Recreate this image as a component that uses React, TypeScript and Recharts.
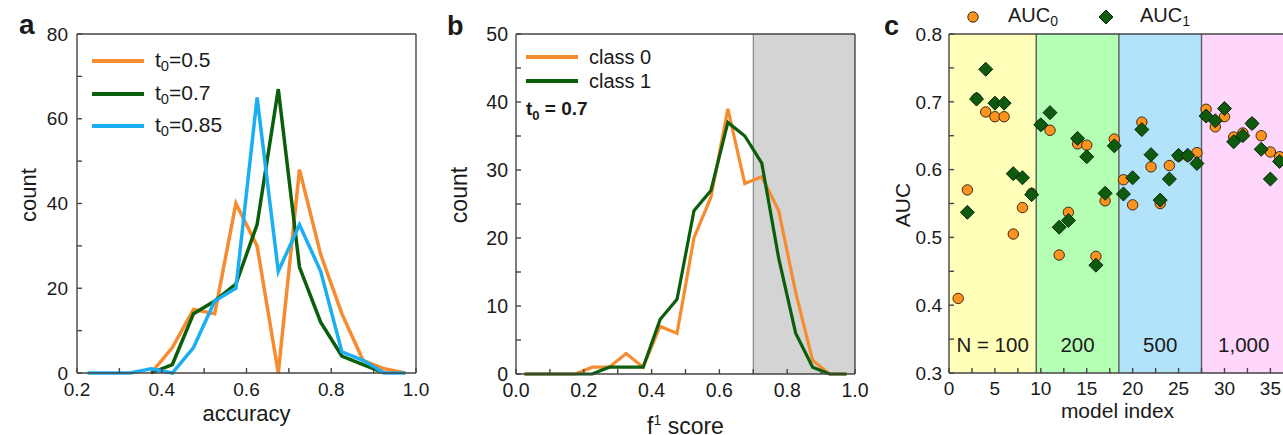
import React from "react";
import {
  LineChart,
  Line,
  ScatterChart,
  Scatter,
  XAxis,
  YAxis,
  Legend,
  ReferenceArea,
  ReferenceLine,
} from "recharts";

const FONT = '"Liberation Sans", Arial, Helvetica, sans-serif';
const ORANGE = "#F68B2F";
const GREEN = "#0B5E0B";
const BLUE = "#1CAEF2";
const FRAME = "#454545";
const TEXT = "#1a1a1a";

// ---- panel a : accuracy histogram ----
const accuracyBins = [
  0.225, 0.275, 0.325, 0.375, 0.425, 0.475, 0.525, 0.575, 0.625, 0.675, 0.725,
  0.775, 0.825, 0.875, 0.925, 0.975,
];
const countT05 = [null, null, null, 0, 6, 15, 14, 40, 30, 0, 48, 28, 14, 3, 1, 0];
const countT07 = [null, null, null, 0, 2, 14, 17, 21, 35, 67, 25, 12, 4, 2, 0, null];
const countT085 = [0, 0, 0, 1, 0, 6, 17, 20, 65, 24, 35, 24, 5, 3, 0, 0];
const accuracyTicks = [0.2, 0.4, 0.6, 0.8, 1.0];
const accuracyMinorTicks = [0.3, 0.5, 0.7, 0.9];
const countTicks = [0, 20, 40, 60, 80];
const countMinorTicks = [10, 30, 50, 70];

// ---- panel b : f1 score histogram ----
const f1Bins = [
  0.025, 0.075, 0.125, 0.175, 0.225, 0.275, 0.325, 0.375, 0.425, 0.475, 0.525,
  0.575, 0.625, 0.675, 0.725, 0.775, 0.825, 0.875, 0.925, 0.975,
];
const f1Class0 = [0, 0, 0, 0, 1, 1, 3, 1, 7, 6, 20, 26, 39, 28, 29, 24, 12, 2, 0, 0];
const f1Class1 = [0, 0, 0, 0, 0, 1, 1, 1, 8, 11, 24, 27, 37, 35, 31, 17, 6, 1, 0, 0];
const f1Ticks = [0, 0.2, 0.4, 0.6, 0.8, 1.0];
const f1MinorTicks = [0.1, 0.3, 0.5, 0.7, 0.9];
const f1CountTicks = [0, 10, 20, 30, 40, 50];
const f1CountMinorTicks = [5, 15, 25, 35, 45];
const f1Threshold = 0.7;

// ---- panel c : AUC per model ----
const modelIndex = [
  1, 2, 3, 4, 5, 6, 7, 8, 9, 10, 11, 12, 13, 14, 15, 16, 17, 18, 19, 20, 21, 22,
  23, 24, 25, 26, 27, 28, 29, 30, 31, 32, 33, 34, 35, 36,
];
const auc0 = [
  0.41, 0.57, 0.705, 0.685, 0.678, 0.678, 0.505, 0.544, 0.565, 0.666, 0.658,
  0.474, 0.537, 0.638, 0.636, 0.472, 0.554, 0.645, 0.585, 0.548, 0.67, 0.604,
  0.55, 0.606, 0.62, 0.62, 0.625, 0.689, 0.663, 0.678, 0.648, 0.654, 0.668,
  0.65, 0.626, 0.619,
];
const auc1 = [
  null, 0.537, 0.704, 0.748, 0.698, 0.698, 0.594, 0.588, 0.563, 0.666, 0.684,
  0.515, 0.525, 0.646, 0.619, 0.459, 0.565, 0.635, 0.564, 0.588, 0.659, 0.622,
  0.555, 0.586, 0.621, 0.621, 0.609, 0.679, 0.672, 0.69, 0.641, 0.65, 0.668,
  0.63, 0.586, 0.612,
];
const groupLabels = ["N = 100", "200", "500", "1,000"];
const groupEdges = [0, 9.5, 18.5, 27.5, 36.7];
const groupFills = ["#FFFFBA", "#B4FFB4", "#B3E2FB", "#FFD6FC"];
const modelTicks = [0, 5, 10, 15, 20, 25, 30, 35];
const modelMinorTicks = [2.5, 7.5, 12.5, 17.5, 22.5, 27.5, 32.5];
const aucTicks = [0.3, 0.4, 0.5, 0.6, 0.7, 0.8];
const aucMinorTicks = [0.35, 0.45, 0.55, 0.65, 0.75];

const accuracyData = accuracyBins.map((x, i) => ({
  x,
  t05: countT05[i],
  t07: countT07[i],
  t085: countT085[i],
}));
const f1Data = f1Bins.map((x, i) => ({ x, c0: f1Class0[i], c1: f1Class1[i] }));
const auc0Data = modelIndex.map((m, i) => ({ m, auc: auc0[i] }));
const auc1Data = modelIndex
  .map((m, i) => ({ m, auc: auc1[i] }))
  .filter((d) => d.auc !== null);

const fmt = (major: number[], digits: number) => (v: number) =>
  major.includes(v) ? v.toFixed(digits) : "";

const tickStyle = (size: number) => ({
  fontSize: size,
  fontFamily: FONT,
  fill: TEXT,
});

const xTitle =
  (content: React.ReactNode, dy: number, size: number) => (props: any) => {
    const vb = props.viewBox;
    return (
      <text
        x={vb.x + vb.width / 2}
        y={vb.y + dy}
        textAnchor="middle"
        fontSize={size}
        fontFamily={FONT}
        fill={TEXT}
      >
        {content}
      </text>
    );
  };

const yTitle =
  (content: string, dx: number, cy: number, size: number) => (props: any) => {
    const vb = props.viewBox;
    const x = vb.x + dx;
    return (
      <text
        x={x}
        y={cy}
        transform={`rotate(-90 ${x} ${cy})`}
        textAnchor="middle"
        fontSize={size}
        fontFamily={FONT}
        fill={TEXT}
      >
        {content}
      </text>
    );
  };

const seriesLabel = (name: string, sub: string, rest: string) => (
  <span>
    {name}
    <sub style={{ fontSize: "0.7em", verticalAlign: "-0.3em" }}>{sub}</sub>
    {rest}
  </span>
);

const legendA: Record<string, React.ReactNode> = {
  t05: seriesLabel("t", "0", "=0.5"),
  t07: seriesLabel("t", "0", "=0.7"),
  t085: seriesLabel("t", "0", "=0.85"),
};
const legendB: Record<string, React.ReactNode> = {
  c0: "class 0",
  c1: "class 1",
};

const lineLegend =
  (labels: Record<string, React.ReactNode>, rowH: number, fontSize: number) =>
  (props: any) => (
    <div style={{ fontFamily: FONT, fontSize, color: TEXT }}>
      {(props.payload || []).map((p: any) => (
        <div
          key={p.dataKey}
          style={{ display: "flex", alignItems: "center", height: rowH }}
        >
          <svg width={52} height={8} style={{ marginRight: 11 }}>
            <line x1={0} y1={4} x2={52} y2={4} stroke={p.color} strokeWidth={4} />
          </svg>
          {labels[p.dataKey]}
        </div>
      ))}
    </div>
  );

const CircleMark = (p: any) => (
  <circle cx={p.cx} cy={p.cy} r={5.2} fill="#FF931E" stroke="#3a2a14" strokeWidth={1} />
);
const DiamondMark = (p: any) => (
  <path
    d={`M${p.cx},${p.cy - 7}L${p.cx + 7},${p.cy}L${p.cx},${p.cy + 7}L${p.cx - 7},${p.cy}Z`}
    fill="#0E5A0E"
    stroke="#0a260a"
    strokeWidth={1}
  />
);

const scatterLegend = () => (
  <div
    style={{
      fontFamily: FONT,
      fontSize: 20,
      color: TEXT,
      display: "flex",
      alignItems: "center",
      height: 30,
    }}
  >
    <svg width={14} height={14} style={{ marginRight: 28 }}>
      <circle cx={7} cy={7} r={5.2} fill="#FF931E" stroke="#3a2a14" strokeWidth={1} />
    </svg>
    <span style={{ width: 90 }}>{seriesLabel("AUC", "0", "")}</span>
    <svg width={16} height={16} style={{ marginRight: 26 }}>
      <path d="M8,1L15,8L8,15L1,8Z" fill="#0E5A0E" stroke="#0a260a" strokeWidth={1} />
    </svg>
    <span>{seriesLabel("AUC", "1", "")}</span>
  </div>
);

// top and right frame axes, inward ticks only
const frameAxes = (xDomain: number[], xTicks: number[], yDomain: number[], yTicks: number[]) => [
  <XAxis
    key="top"
    xAxisId="top"
    orientation="top"
    type="number"
    dataKey="__none"
    domain={xDomain}
    ticks={xTicks}
    interval={0}
    height={1}
    tick={false}
    tickSize={-5}
    stroke={FRAME}
    strokeWidth={1.4}
    allowDataOverflow
  />,
  <YAxis
    key="right"
    yAxisId="right"
    orientation="right"
    type="number"
    dataKey="__none"
    domain={yDomain}
    ticks={yTicks}
    interval={0}
    width={1}
    tick={false}
    tickSize={-5}
    stroke={FRAME}
    strokeWidth={1.4}
    allowDataOverflow
  />,
];

const abs = (left: number): React.CSSProperties => ({
  position: "absolute",
  left,
  top: 0,
});

export default function App() {
  return (
    <div
      style={{
        position: "fixed",
        left: 0,
        top: 0,
        width: 1283,
        height: 435,
        overflow: "hidden",
        background: "#fff",
      }}
    >
      {/* a */}
      <div style={abs(0)}>
        <LineChart
          width={430}
          height={435}
          data={accuracyData}
          margin={{ top: 33, right: 13, bottom: 32, left: 0 }}
        >
          <XAxis
            dataKey="x"
            type="number"
            domain={[0.2, 1.0]}
            ticks={[...accuracyTicks, ...accuracyMinorTicks]}
            tickFormatter={fmt(accuracyTicks, 1)}
            interval={0}
            height={30}
            tickSize={-5}
            tickMargin={15}
            stroke={FRAME}
            strokeWidth={1.4}
            tick={tickStyle(19)}
            label={{ content: xTitle("accuracy", 48, 22) }}
          />
          <YAxis
            type="number"
            domain={[0, 80]}
            ticks={[...countTicks, ...countMinorTicks]}
            tickFormatter={fmt(countTicks, 0)}
            interval={0}
            width={77}
            tickSize={-5}
            tickMargin={14}
            stroke={FRAME}
            strokeWidth={1.4}
            tick={tickStyle(19)}
            label={{ content: yTitle("count", 36, 195, 22) }}
          />
          {frameAxes(
            [0.2, 1.0],
            [...accuracyTicks, ...accuracyMinorTicks],
            [0, 80],
            [...countTicks, ...countMinorTicks]
          )}
          <Line dataKey="t05" name="t0=0.5" stroke={ORANGE} strokeWidth={3.5} dot={false} isAnimationActive={false} />
          <Line dataKey="t07" name="t0=0.7" stroke={GREEN} strokeWidth={3.5} dot={false} isAnimationActive={false} />
          <Line dataKey="t085" name="t0=0.85" stroke={BLUE} strokeWidth={3.5} dot={false} isAnimationActive={false} />
          <Legend
            layout="vertical"
            align="center"
            verticalAlign="middle"
            wrapperStyle={{ left: 92, top: 45, width: 200 }}
            content={lineLegend(legendA, 32.5, 21)}
          />
        </LineChart>
      </div>

      {/* b */}
      <div style={abs(430)}>
        <LineChart
          width={440}
          height={435}
          data={f1Data}
          margin={{ top: 33, right: 14, bottom: 31, left: 0 }}
        >
          <ReferenceArea x1={f1Threshold} x2={1.0} fill="#D4D4D4" fillOpacity={1} />
          <ReferenceLine x={f1Threshold} stroke="#8a8a8a" strokeWidth={1.2} />
          <XAxis
            dataKey="x"
            type="number"
            domain={[0, 1.0]}
            ticks={[...f1Ticks, ...f1MinorTicks]}
            tickFormatter={fmt(f1Ticks, 1)}
            interval={0}
            height={30}
            tickSize={-5}
            tickMargin={14}
            stroke={FRAME}
            strokeWidth={1.4}
            tick={tickStyle(19.5)}
            label={{
              content: xTitle(
                <>
                  f<tspan dy={-9} fontSize={14}>1</tspan>
                  <tspan dy={9}> score</tspan>
                </>,
                60,
                23
              ),
            }}
          />
          <YAxis
            type="number"
            domain={[0, 50]}
            ticks={[...f1CountTicks, ...f1CountMinorTicks]}
            tickFormatter={fmt(f1CountTicks, 0)}
            interval={0}
            width={86}
            tickSize={-5}
            tickMargin={13}
            stroke={FRAME}
            strokeWidth={1.4}
            tick={tickStyle(19.5)}
            label={{ content: yTitle("count", 37, 195, 23) }}
          />
          {frameAxes(
            [0, 1.0],
            [...f1Ticks, ...f1MinorTicks],
            [0, 50],
            [...f1CountTicks, ...f1CountMinorTicks]
          )}
          <Line dataKey="c0" name="class 0" stroke={ORANGE} strokeWidth={3.2} dot={false} isAnimationActive={false} />
          <Line dataKey="c1" name="class 1" stroke={GREEN} strokeWidth={3.2} dot={false} isAnimationActive={false} />
          <Legend
            layout="vertical"
            align="center"
            verticalAlign="middle"
            wrapperStyle={{ left: 96, top: 45, width: 200 }}
            content={lineLegend(legendB, 24, 20)}
          />
        </LineChart>
      </div>

      {/* c */}
      <div style={abs(870)}>
        <ScatterChart
          width={426}
          height={435}
          margin={{ top: 33, right: 9, bottom: 32, left: 0 }}
        >
          {groupLabels.map((g, i) => (
            <ReferenceArea
              key={g}
              x1={groupEdges[i]}
              x2={groupEdges[i + 1]}
              fill={groupFills[i]}
              fillOpacity={1}
              ifOverflow="hidden"
              label={{
                value: g,
                position: "insideBottom",
                offset: 21,
                fontSize: 20.5,
                fontFamily: FONT,
                fill: TEXT,
              }}
            />
          ))}
          {groupEdges.slice(1, -1).map((e) => (
            <ReferenceLine key={e} x={e} stroke="#5a5a5a" strokeWidth={1.4} />
          ))}
          <XAxis
            dataKey="m"
            type="number"
            domain={[0, 36.7]}
            ticks={[...modelTicks, ...modelMinorTicks]}
            tickFormatter={fmt(modelTicks, 0)}
            interval={0}
            height={30}
            tickSize={-5}
            tickMargin={14}
            stroke={FRAME}
            strokeWidth={1.4}
            tick={tickStyle(19)}
            allowDataOverflow
            label={{ content: xTitle("model index", 45, 21) }}
          />
          <YAxis
            dataKey="auc"
            type="number"
            domain={[0.3, 0.8]}
            ticks={[...aucTicks, ...aucMinorTicks]}
            tickFormatter={fmt(aucTicks, 1)}
            interval={0}
            width={79}
            tickSize={-5}
            tickMargin={12}
            stroke={FRAME}
            strokeWidth={1.4}
            tick={tickStyle(19)}
            label={{ content: yTitle("AUC", 40, 205, 21) }}
          />
          {frameAxes(
            [0, 36.7],
            [...modelTicks, ...modelMinorTicks],
            [0.3, 0.8],
            [...aucTicks, ...aucMinorTicks]
          )}
          <Scatter name="AUC0" data={auc0Data} shape={CircleMark} isAnimationActive={false} />
          <Scatter name="AUC1" data={auc1Data} shape={DiamondMark} isAnimationActive={false} />
          <Legend
            layout="vertical"
            align="center"
            verticalAlign="middle"
            wrapperStyle={{ left: 96, top: 2, width: 300 }}
            content={scatterLegend}
          />
        </ScatterChart>
      </div>

      {/* panel letters and annotation */}
      <svg
        width={1283}
        height={435}
        style={{ position: "absolute", left: 0, top: 0, pointerEvents: "none" }}
      >
        <text x={19} y={34} fontSize={28} fontWeight="bold" fontFamily={FONT} fill={TEXT}>
          a
        </text>
        <text x={447} y={35} fontSize={27} fontWeight="bold" fontFamily={FONT} fill={TEXT}>
          b
        </text>
        <text x={884} y={35} fontSize={27} fontWeight="bold" fontFamily={FONT} fill={TEXT}>
          c
        </text>
        <text x={526} y={115} fontSize={19} fontWeight="bold" fontFamily={FONT} fill={TEXT}>
          t<tspan dy={5} fontSize={13}>0</tspan>
          <tspan dy={-5}> = 0.7</tspan>
        </text>
      </svg>
    </div>
  );
}
